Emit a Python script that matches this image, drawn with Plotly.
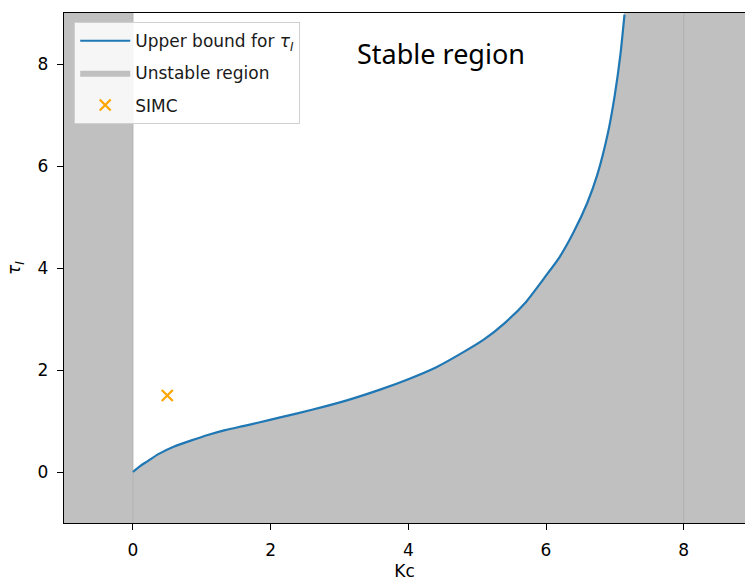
import plotly.graph_objects as go

# ---- data ----
kc_curve = [0, 0.1, 0.2, 0.37, 0.6, 0.85, 1.1, 1.34, 1.6, 1.83, 2.14, 2.6, 3.12, 3.6,
            4.0, 4.4, 4.8, 5.1, 5.4, 5.7, 6.0, 6.2, 6.4, 6.6, 6.75, 6.9, 7.0, 7.08, 7.14]
tau_curve = [0, 0.11, 0.2, 0.35, 0.5, 0.62, 0.73, 0.82, 0.9, 0.97, 1.07, 1.22, 1.41, 1.62,
             1.82, 2.05, 2.35, 2.6, 2.92, 3.32, 3.85, 4.22, 4.7, 5.28, 5.85, 6.65, 7.4, 8.18, 8.97]
simc_kc = [0.5]
simc_tau = [1.5]
seam_positions = [0, 8]
x_range = [-1, 8.89]
y_range = [-1, 9]
x_ticks = [0, 2, 4, 6, 8]
y_ticks = [0, 2, 4, 6, 8]

FONT = "DejaVu Sans"
FS = 17
GRAY = "#c0c0c0"

fig = go.Figure()

# --- unstable region: area under the bound, left strip, right strip ---
fig.add_trace(go.Scatter(
    x=kc_curve, y=[y_range[0]] * len(kc_curve), mode="lines",
    line=dict(width=0, color=GRAY), showlegend=False, hoverinfo="skip",
))
fig.add_trace(go.Scatter(
    x=kc_curve, y=tau_curve, mode="lines", line=dict(width=0, color=GRAY, shape="spline", smoothing=0.6),
    fill="tonexty", fillcolor=GRAY, name="Unstable region", legendgroup="u",
    legendrank=2, hoverinfo="skip",
))
fig.add_trace(go.Scatter(
    x=[x_range[0], kc_curve[0], kc_curve[0], x_range[0], x_range[0]],
    y=[y_range[0], y_range[0], y_range[1], y_range[1], y_range[0]],
    mode="lines", fill="toself", fillcolor=GRAY, line=dict(width=1, color=GRAY),
    showlegend=False, legendgroup="u", hoverinfo="skip",
))
fig.add_trace(go.Scatter(
    x=[kc_curve[-1], x_range[1], x_range[1], kc_curve[-1], kc_curve[-1]],
    y=[y_range[0], y_range[0], y_range[1], y_range[1], y_range[0]],
    mode="lines", fill="toself", fillcolor=GRAY, line=dict(width=1.2, color=GRAY),
    showlegend=False, legendgroup="u", hoverinfo="skip",
))

for s in seam_positions:
    fig.add_shape(type="line", xref="x", yref="y", x0=s, x1=s, y0=y_range[0], y1=y_range[1],
                  line=dict(color="rgba(150,150,150,0.35)", width=1), layer="above")

fig.add_trace(go.Scatter(
    x=kc_curve, y=tau_curve, mode="lines",
    line=dict(color="#1f77b4", width=2.2, shape="spline", smoothing=0.6),
    name="Upper bound for <i>τ</i><sub><i>I</i></sub>", legendgroup="c", legendrank=1,
))

fig.add_trace(go.Scatter(
    x=simc_kc, y=simc_tau, mode="markers", name="SIMC", legendgroup="s",
    marker=dict(symbol="x-thin", size=11, line=dict(width=2.2, color="#ffa500"), color="#ffa500"),
    legendrank=3,
))

fig.add_annotation(
    x=4.48, y=8.2, xref="x", yref="y", text="Stable region", showarrow=False,
    font=dict(family="Noto Sans", size=27, color="black"),
)

fig.update_layout(
    width=745, height=581,
    margin=dict(l=64, r=0, t=13, b=58, autoexpand=False),
    paper_bgcolor="white", plot_bgcolor="white",
    font=dict(family=FONT, size=FS, color="black"),
    showlegend=True,
    legend=dict(
        x=0.015, y=0.982, xanchor="left", yanchor="top",
        bgcolor="rgba(255,255,255,0.85)", bordercolor="#d0d0d0", borderwidth=1,
        font=dict(family=FONT, size=FS, color="#1a1a1a"),
        tracegroupgap=7, itemwidth=50, groupclick="toggleitem",
    ),
)

fig.update_xaxes(
    range=x_range, tickvals=x_ticks, showgrid=False, zeroline=False, automargin=False,
    showline=True, linecolor="black", linewidth=1.3, mirror=True,
    ticks="outside", ticklen=6, tickwidth=1.3, tickcolor="black", ticklabelstandoff=5,
    tickfont=dict(family=FONT, size=FS),
    title=dict(text="Kc", font=dict(family=FONT, size=FS), standoff=6),
)
fig.update_yaxes(
    range=y_range, tickvals=y_ticks, showgrid=False, zeroline=False, automargin=False,
    showline=True, linecolor="black", linewidth=1.3, mirror=False,
    ticks="outside", ticklen=6, tickwidth=1.3, tickcolor="black", ticklabelstandoff=5,
    tickfont=dict(family=FONT, size=FS),
    title=dict(text="<i>τ</i><sub><i>I</i></sub>", font=dict(family=FONT, size=FS), standoff=12),
)

fig.write_html(
    "out.html",
    config={"displayModeBar": False},
    post_script="document.body.style.margin='0';document.body.style.overflow='hidden';",
)
